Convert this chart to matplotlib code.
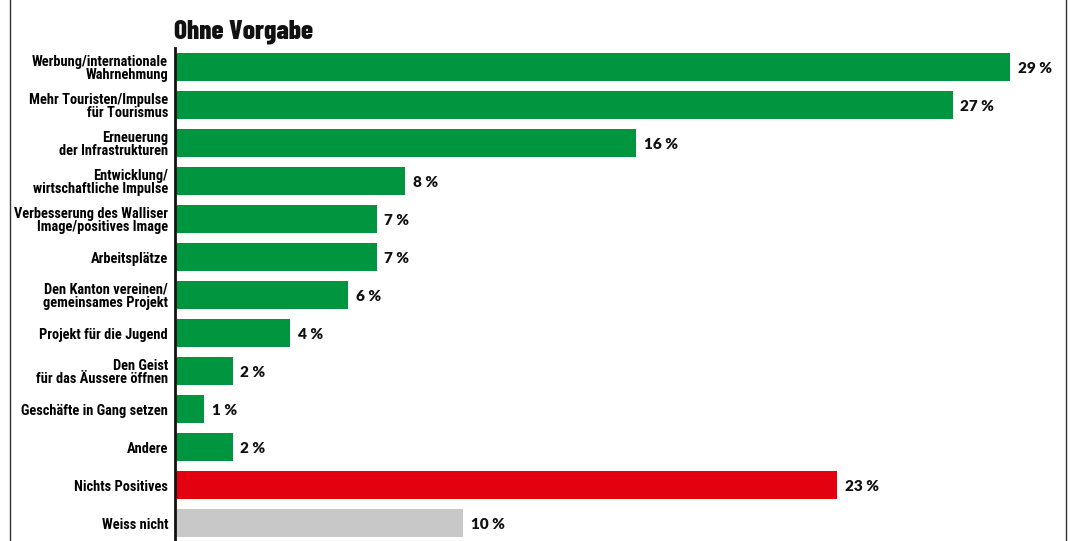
import matplotlib.pyplot as plt
from matplotlib.lines import Line2D
from matplotlib import font_manager

categories = [
    "Werbung/internationale\nWahrnehmung",
    "Mehr Touristen/Impulse\nfür Tourismus",
    "Erneuerung\nder Infrastrukturen",
    "Entwicklung/\nwirtschaftliche Impulse",
    "Verbesserung des Walliser\nImage/positives Image",
    "Arbeitsplätze",
    "Den Kanton vereinen/\ngemeinsames Projekt",
    "Projekt für die Jugend",
    "Den Geist\nfür das Äussere öffnen",
    "Geschäfte in Gang setzen",
    "Andere",
    "Nichts Positives",
    "Weiss nicht",
]
values = [29, 27, 16, 8, 7, 7, 6, 4, 2, 1, 2, 23, 10]
groups = ["pos"] * 11 + ["neg", "dk"]
group_colors = {"pos": "#009640", "neg": "#E3000F", "dk": "#C8C8C8"}
title = "Ohne Vorgabe"

bold_fonts = {}
for f in font_manager.fontManager.ttflist:
    w = f.weight if isinstance(f.weight, int) else (700 if "bold" in str(f.weight) else 400)
    bold_fonts[f.name] = max(bold_fonts.get(f.name, 0), w)


def pick(*names, min_weight=700):
    for n in names:
        if bold_fonts.get(n, 0) >= min_weight:
            return n
    return "DejaVu Sans"


narrow = pick("Roboto Condensed", "Archivo Narrow", "IBM Plex Sans Condensed",
              "Open Sans Condensed", "Liberation Sans Narrow")
heavy = pick("Roboto Condensed", "Barlow Condensed", "Archivo Narrow",
             "IBM Plex Sans Condensed", "Open Sans Condensed", min_weight=800)
if heavy == "DejaVu Sans":
    heavy = narrow
value_font = pick("Montserrat", "Lato", "Inter")

W, H = 1072, 541
fig = plt.figure(figsize=(W / 100, H / 100), dpi=100)
px_per_unit = 28.8
x_max = 30
ax_left, ax_top = 175, 48
ax = fig.add_axes([ax_left / W, 0, x_max * px_per_unit / W, (H - ax_top) / H])

ypos = list(range(len(categories)))
colors = [group_colors[g] for g in groups]
ax.barh(ypos, values, height=0.74, color=colors, zorder=2)
ax.set_xlim(0, x_max)
ax.set_ylim(12.47, -0.5)

for y, v in zip(ypos, values):
    ax.text(v + 0.27, y + 0.03, f"{v} %", va="center", ha="left",
            fontsize=11, fontweight="heavy", family=[value_font, "DejaVu Sans"],
            color="#111111")

ax.set_yticks(ypos)
ax.set_yticklabels(categories, fontsize=10.4, fontweight="bold",
                   family=[narrow, "DejaVu Sans"], linespacing=0.95)
ax.tick_params(axis="y", length=0, pad=5)
ax.set_xticks([])
for side in ["top", "right", "bottom"]:
    ax.spines[side].set_visible(False)
ax.spines["left"].set_linewidth(2)
ax.spines["left"].set_color("#111111")

fig.text(ax_left / W - 0.001, 1 - 32 / H, title, fontsize=19.5, fontweight="heavy",
         family=[heavy, "DejaVu Sans"], va="center", ha="left", color="#111111")

for x in (10, 1066):
    fig.add_artist(Line2D([x / W, x / W], [0, 1], transform=fig.transFigure,
                          color="#333333", lw=1))

fig.savefig("out.png", dpi=100)
